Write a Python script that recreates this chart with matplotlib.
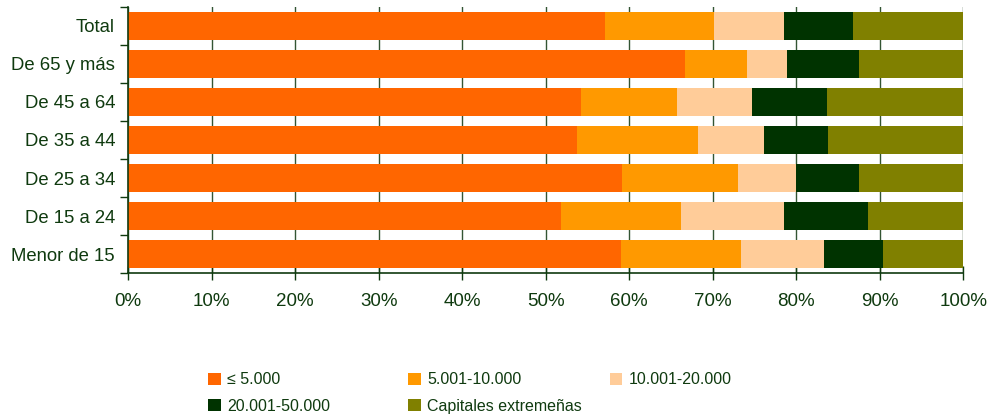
import numpy as np
import matplotlib.pyplot as plt
from matplotlib.patches import Patch
from matplotlib.ticker import FixedLocator, FuncFormatter

plt.rcParams['font.family'] = ['Liberation Sans', 'DejaVu Sans']

# categorias de edad (de abajo arriba)
categorias = ['Menor de 15', 'De 15 a 24', 'De 25 a 34', 'De 35 a 44',
              'De 45 a 64', 'De 65 y más', 'Total']

# porcentaje de cada tamaño de municipio
hasta_5000 = [59.0, 51.8, 59.1, 53.7, 54.2, 66.7, 57.1]
de_5001_10000 = [14.4, 14.4, 13.9, 14.5, 11.5, 7.4, 13.0]
de_10001_20000 = [9.9, 12.3, 7.0, 7.9, 9.0, 4.8, 8.4]
de_20001_50000 = [7.1, 10.1, 7.5, 7.7, 9.0, 8.6, 8.3]
capitales = [9.6, 11.4, 12.5, 16.2, 16.3, 12.5, 13.2]

series = [hasta_5000, de_5001_10000, de_10001_20000, de_20001_50000, capitales]
etiquetas = ['≤ 5.000', '5.001-10.000', '10.001-20.000', '20.001-50.000',
             'Capitales extremeñas']
colores = ['#FF6600', '#FF9900', '#FFCC99', '#003300', '#808000']
texto = '#0F3A0F'

fig = plt.figure(figsize=(9.92, 4.16), dpi=100)
ax = fig.add_axes([0.1293, 0.343, 0.8418, 0.641])

y = np.arange(len(categorias))
izquierda = np.zeros(len(categorias))
for valores, color in zip(series, colores):
    valores = np.array(valores)
    ax.barh(y, valores, left=izquierda, height=0.74, color=color, zorder=2)
    izquierda += valores

ax.set_xlim(0, 100)
ax.set_ylim(-0.5, len(categorias) - 0.5)

# eje x
ax.set_xticks(np.arange(0, 101, 10))
ax.xaxis.set_major_formatter(FuncFormatter(lambda v, p: '%d%%' % v))
ax.tick_params(axis='x', direction='inout', length=10, width=1, color=texto,
               labelsize=13.5, labelcolor=texto, pad=9)
ax.grid(axis='x', color='#335533', linewidth=1, zorder=0)

# eje y: etiquetas centradas, marcas entre categorias
ax.set_yticks(y)
ax.set_yticklabels(categorias)
ax.yaxis.set_minor_locator(FixedLocator(np.arange(-0.5, len(categorias), 1)))
ax.tick_params(axis='y', which='major', length=0, labelsize=13.3,
               labelcolor=texto, pad=9.5)
ax.tick_params(axis='y', which='minor', length=6, width=1, color=texto)

for lado in ['top', 'right']:
    ax.spines[lado].set_visible(False)
for lado in ['left', 'bottom']:
    ax.spines[lado].set_color(texto)
    ax.spines[lado].set_linewidth(1.2)
ax.set_axisbelow(True)

# leyenda en tres columnas colocadas a mano
manejadores = [Patch(facecolor=c, edgecolor='none') for c in colores]
columnas = [[0, 3], [1, 4], [2]]
x_col = [0.2095, 0.4115, 0.6145]
for xc, idx in zip(x_col, columnas):
    fig.legend([manejadores[i] for i in idx], [etiquetas[i] for i in idx],
               loc='upper left', bbox_to_anchor=(xc, 0.105), frameon=False,
               handlelength=0.8, handleheight=0.8, handletextpad=0.4,
               labelspacing=0.7, borderpad=0, borderaxespad=0,
               fontsize=11.5, labelcolor=texto)

fig.savefig('out.png', dpi=100)
